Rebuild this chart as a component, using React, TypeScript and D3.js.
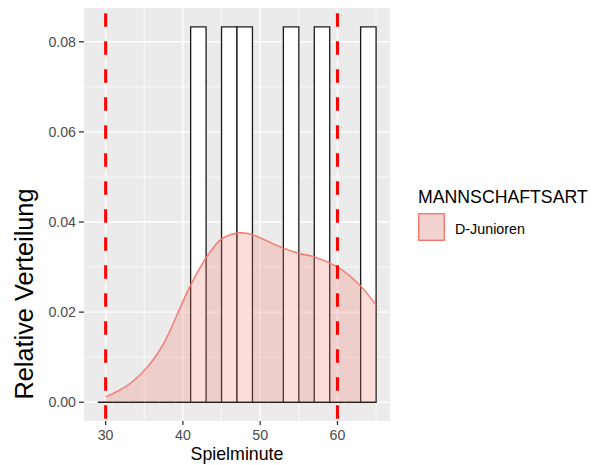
import React from "react";
import * as d3 from "d3";

// Histogram bins (start, relative height), binwidth 2
const binStarts = [29, 31, 33, 35, 37, 39, 41, 43, 45, 47, 49, 51, 53, 55, 57, 59, 61, 63];
const binHeights = [0, 0, 0, 0, 0, 0, 0.08333, 0, 0.08333, 0.08333, 0, 0, 0.08333, 0, 0.08333, 0, 0, 0.08333];
const binWidth = 2;

// Density curve (D-Junioren)
const densX = [30, 31.5, 33.2, 35.4, 37.5, 39.7, 41, 43.1, 45, 47.4, 49.1, 51, 53, 55.1, 57.1, 59.9, 61.5, 63.1, 65];
const densY = [0.0012, 0.0024, 0.0042, 0.0078, 0.013, 0.0212, 0.026, 0.0323, 0.0362, 0.0376, 0.0371, 0.0357, 0.0342, 0.033, 0.0322, 0.0301, 0.0282, 0.0256, 0.0216];

const vLines = [30, 60];
const xTicks = [30, 40, 50, 60];
const xMinor = [35, 45, 55, 65];
const yTicks = [0, 0.02, 0.04, 0.06, 0.08];
const yMinor = [0.01, 0.03, 0.05, 0.07];
const legendTitle = "MANNSCHAFTSART";
const legendLabel = "D-Junioren";
const xTitle = "Spielminute";
const yTitle = "Relative Verteilung";

const W = 591, H = 465;
const P = { l: 84, r: 390, t: 8, b: 421 };
const FONT = "'Liberation Sans', Arial, Helvetica, sans-serif";
const RED = "#F8766D";

export default function App() {
  const x = d3.scaleLinear().domain([27.2, 66.8]).range([P.l, P.r]);
  const y = d3.scaleLinear().domain([-0.0041667, 0.0875]).range([P.b, P.t]);
  const pts = densX.map((v, i) => [v, densY[i]] as [number, number]);
  const area = d3.area<[number, number]>().x(d => x(d[0])).y0(y(0)).y1(d => y(d[1])).curve(d3.curveCatmullRom);
  const line = d3.line<[number, number]>().x(d => x(d[0])).y(d => y(d[1])).curve(d3.curveCatmullRom);
  const fmt = d3.format(".2f");
  return (
    <svg width={W} height={H} style={{ display: "block", position: "absolute", left: 0, top: 0 }} fontFamily={FONT}>
      <rect x={0} y={0} width={W} height={H} fill="white" />
      <rect x={P.l} y={P.t} width={P.r - P.l} height={P.b - P.t} fill="#EBEBEB" />
      {xMinor.map(v => <line key={"xm" + v} x1={x(v)} x2={x(v)} y1={P.t} y2={P.b} stroke="white" strokeWidth={0.7} />)}
      {yMinor.map(v => <line key={"ym" + v} y1={y(v)} y2={y(v)} x1={P.l} x2={P.r} stroke="white" strokeWidth={0.7} />)}
      {xTicks.map(v => <line key={"xM" + v} x1={x(v)} x2={x(v)} y1={P.t} y2={P.b} stroke="white" strokeWidth={1.4} />)}
      {yTicks.map(v => <line key={"yM" + v} y1={y(v)} y2={y(v)} x1={P.l} x2={P.r} stroke="white" strokeWidth={1.4} />)}
      {binStarts.map((s, i) => {
        const x0 = x(s), x1 = x(s + binWidth), y0 = y(0), y1 = y(binHeights[i]);
        return <path key={"b" + s} d={`M${x0},${y0}L${x0},${y1}L${x1},${y1}L${x1},${y0}Z`} fill="white" stroke="#1a1a1a" strokeWidth={1.3} />;
      })}
      <path d={area(pts) || ""} fill={RED} fillOpacity={0.25} />
      <path d={line(pts) || ""} fill="none" stroke={RED} strokeWidth={1.4} />
      {vLines.map(v => <line key={"v" + v} x1={x(v)} x2={x(v)} y1={P.t} y2={P.b} stroke="#FF0000" strokeWidth={3} strokeDasharray="13.5 14.5" strokeDashoffset={22.7} />)}
      {yTicks.map(v => (
        <g key={"yt" + v}>
          <line x1={P.l - 5} x2={P.l} y1={y(v)} y2={y(v)} stroke="#333333" strokeWidth={1.3} />
          <text x={P.l - 8} y={y(v)} dy="0.36em" textAnchor="end" fontSize={14.2} fill="#4D4D4D">{fmt(v)}</text>
        </g>
      ))}
      {xTicks.map(v => (
        <g key={"xt" + v}>
          <line x1={x(v)} x2={x(v)} y1={P.b} y2={P.b + 4} stroke="#333333" strokeWidth={1.3} />
          <text x={x(v)} y={440} textAnchor="middle" fontSize={14.2} fill="#4D4D4D">{v}</text>
        </g>
      ))}
      <text x={(P.l + P.r) / 2} y={459.5} textAnchor="middle" fontSize={17.8} fill="black">{xTitle}</text>
      <text transform={`translate(33,294) rotate(-90)`} textAnchor="middle" fontSize={25.3} fill="black">{yTitle}</text>
      <text x={418} y={202.7} fontSize={17.7} fill="black">{legendTitle}</text>
      <rect x={418} y={213} width={27} height={28} fill="#F2F2F2" />
      <rect x={418.7} y={213.7} width={25.6} height={26.6} fill={RED} fillOpacity={0.25} stroke={RED} strokeWidth={1.4} />
      <text x={455} y={234.3} fontSize={14.3} fill="black">{legendLabel}</text>
    </svg>
  );
}
